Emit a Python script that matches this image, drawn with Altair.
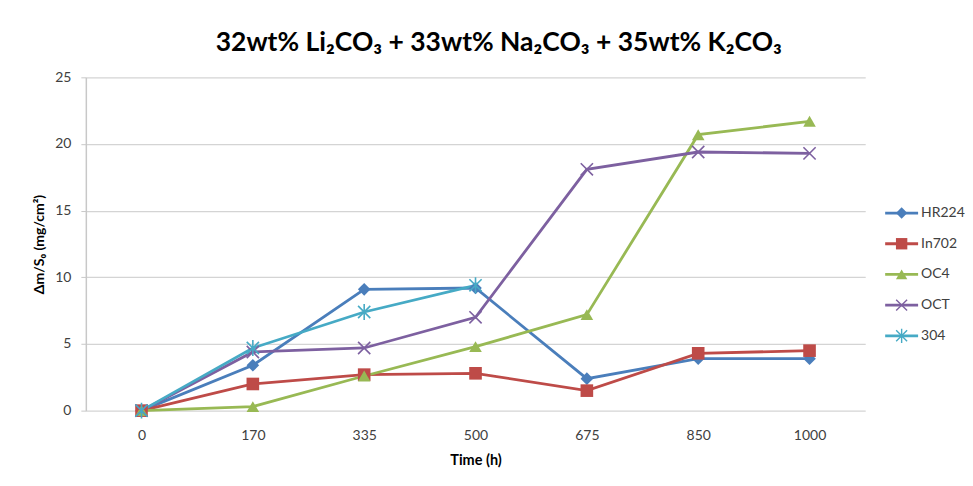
import altair as alt
import pandas as pd

times = ["0", "170", "335", "500", "675", "850", "1000"]
series = ["HR224", "In702", "OC4", "OCT", "304"]
hr224 = [0, 3.4, 9.1, 9.2, 2.4, 3.9, 3.9]
in702 = [0, 2.0, 2.7, 2.8, 1.5, 4.3, 4.5]
oc4 = [0, 0.3, 2.6, 4.8, 7.2, 20.7, 21.7]
oct_ = [0, 4.4, 4.7, 7.0, 18.1, 19.4, 19.3]
s304 = [0, 4.7, 7.4, 9.4]
colors = ["#4A7EBB", "#BE4B48", "#98B954", "#7D60A0", "#46AAC5"]

X_PATH = "M-1,-1L1,1M1,-1L-1,1"
AST_PATH = "M-1,-1L1,1M1,-1L-1,1M0,-1.3L0,1.3"
shapes = ["diamond", "square", "triangle-up", X_PATH, AST_PATH]
filled_flags = [True, True, True, False, False]

rows = []
for name, vals in zip(series, [hr224, in702, oc4, oct_, s304]):
    for t, v in zip(times, vals):
        rows.append({"time": t, "series": name, "value": v})
df = pd.DataFrame(rows)
df["order"] = df["series"].map({s: i for i, s in enumerate(series)})
df["filled"] = df["series"].map(dict(zip(series, filled_flags)))

color_scale = alt.Scale(domain=series, range=colors)
shape_scale = alt.Scale(domain=series, range=shapes)

FONT = "Lato"

x_enc = alt.X("time:O", sort=times, scale=alt.Scale(type="point", padding=0.5),
              axis=alt.Axis(title="Time (h)", labelAngle=0, ticks=False, domain=False,
                            labelFontSize=14, labelColor="#404040", labelPadding=18,
                            titleFontSize=14.5, titleFontWeight="bold", titleColor="#000000",
                            titlePadding=11, labelFont=FONT, titleFont=FONT))
y_enc = alt.Y("value:Q", scale=alt.Scale(domain=[0, 25], nice=False),
              axis=alt.Axis(title="Δm/S₀ (mg/cm²)", values=[0, 5, 10, 15, 20, 25],
                            grid=True, gridColor="#d4d4d4", gridWidth=1.2,
                            tickSize=5, tickColor="#c8c8c8", domainColor="#c8c8c8",
                            domainWidth=1.5, labelFontSize=14, labelColor="#404040",
                            labelPadding=10, titleFontSize=14, titleFontWeight="bold",
                            titleColor="#000000", titlePadding=8, labelFont=FONT,
                            titleFont=FONT))

base = alt.Chart(df)

lines = base.mark_line(strokeWidth=2.8).encode(
    x=x_enc, y=y_enc,
    color=alt.Color("series:N", scale=color_scale, legend=None),
    detail="series:N",
    order=alt.Order("order:Q"),
)

pts_filled = base.transform_filter("datum.filled").mark_point(
    filled=True, size=160, opacity=1, strokeWidth=0).encode(
    x=x_enc, y=y_enc,
    color=alt.Color("series:N", scale=color_scale, legend=None),
    shape=alt.Shape("series:N", scale=shape_scale, legend=None),
)

pts_stroked = base.transform_filter("!datum.filled").mark_point(
    filled=False, size=150, opacity=1, strokeWidth=1.6).encode(
    x=x_enc, y=y_enc,
    color=alt.Color("series:N", scale=color_scale, legend=None),
    shape=alt.Shape("series:N", scale=shape_scale, legend=None),
)

main = alt.layer(lines, pts_filled, pts_stroked).properties(width=781, height=334)

# legend panel
leg_df = pd.DataFrame({"series": series, "filled": filled_flags})
leg_y = alt.Y("series:N", sort=series, axis=None,
              scale=alt.Scale(type="point", domain=series, range=[136, 259], padding=0))
leg_base = alt.Chart(leg_df)
leg_line = leg_base.mark_rule(strokeWidth=2.8).encode(
    x=alt.value(0), x2=alt.value(33), y=leg_y,
    color=alt.Color("series:N", scale=color_scale, legend=None))
leg_pf = leg_base.transform_filter("datum.filled").mark_point(
    filled=True, size=130, opacity=1, strokeWidth=0).encode(
    x=alt.value(16.5), y=leg_y,
    color=alt.Color("series:N", scale=color_scale, legend=None),
    shape=alt.Shape("series:N", scale=shape_scale, legend=None))
leg_ps = leg_base.transform_filter("!datum.filled").mark_point(
    filled=False, size=120, opacity=1, strokeWidth=1.4).encode(
    x=alt.value(16.5), y=leg_y,
    color=alt.Color("series:N", scale=color_scale, legend=None),
    shape=alt.Shape("series:N", scale=shape_scale, legend=None))
leg_txt = leg_base.mark_text(align="left", baseline="middle", fontSize=14,
                             font=FONT, color="#404040", dx=0).encode(
    x=alt.value(36), y=leg_y, text="series:N")
legend = alt.layer(leg_line, leg_pf, leg_ps, leg_txt).properties(width=76, height=334)

chart = alt.hconcat(main, legend, spacing=18).properties(
    title=alt.TitleParams("32wt% Li₂CO₃ + 33wt% Na₂CO₃ + 35wt% K₂CO₃",
                          fontSize=26.5, font=FONT, fontWeight="bold", color="#000000",
                          anchor="middle", offset=14),
    padding={"left": 24, "top": 21, "right": 0, "bottom": 0},
).configure_view(stroke=None).configure_concat(spacing=18)

chart.save("out.html", embed_options={"renderer": "svg", "actions": False})
